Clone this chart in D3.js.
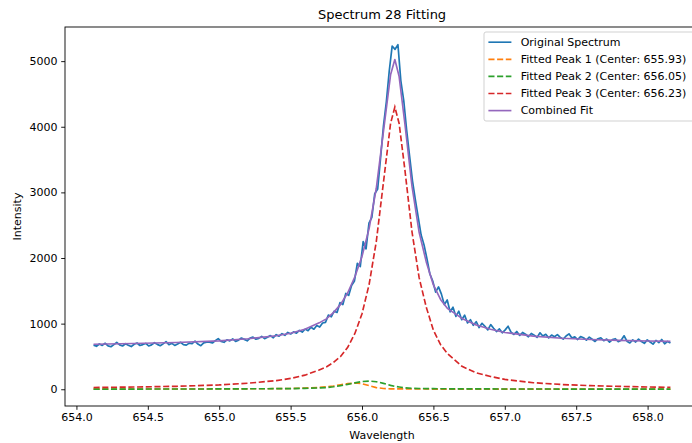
<!DOCTYPE html>
<html>
<head>
<meta charset="utf-8">
<script src="https://cdn.jsdelivr.net/npm/d3@7"></script>
<style>
  body { margin: 0; background: #fff; }
  svg { display: block; font-family: "DejaVu Sans", sans-serif; }
</style>
</head>
<body>
<div id="chart"></div>
<script>
// measured spectrum (evenly sampled between first and last wavelength)
const specStart = 654.12, specEnd = 658.16;
const specValues = [
    672, 655, 690, 668, 701, 662, 648, 680, 713, 676,
    659, 694, 671, 650, 686, 705, 667, 681, 698, 660,
    677, 709, 684, 663, 692, 725, 679, 700, 668, 690,
    716, 681, 672, 703, 694, 732, 688, 664, 707, 719,
    718, 705, 741, 772, 729, 716, 754, 737, 768, 730,
    748, 781, 760, 739, 779, 795, 762, 776, 806, 771,
    792, 818, 785, 832, 808, 848, 822, 866, 842, 874,
    856, 897, 872, 918, 893, 944, 915, 972, 948, 1010,
    1020, 1130, 1105, 1190, 1170, 1320, 1290, 1460, 1430, 1580,
    1650, 1920, 1870, 2250, 2140, 2530, 2620, 2980, 3050, 3520,
    4010, 4380, 4850, 5230, 5180, 5250, 4700, 4400, 3950, 3560,
    3180, 2890, 2620, 2350, 2200, 1990, 1760, 1650, 1480, 1560,
    1450, 1290, 1360, 1180, 1250, 1110, 1190, 1060, 1130, 1010,
    1060, 975, 1030, 940, 1005, 960, 905, 985, 930, 880,
    920, 860, 905, 960, 870, 835, 880, 820, 865, 838,
    800, 850, 825, 790, 860, 812, 838, 783, 826, 801,
    832, 790, 765, 812, 845, 780, 798, 758, 803, 785,
    748, 795, 762, 728, 770, 784, 740, 765, 718, 756,
    770, 725, 746, 815, 733, 705, 752, 720, 764, 727,
    700, 752, 720, 688, 744, 711, 758, 693, 729, 704
];

// fitted curves, read at these wavelengths
const fitWave = [654.12, 654.4, 654.7, 655.0, 655.2, 655.4, 655.5, 655.6, 655.7, 655.75,
    655.8, 655.85, 655.9, 655.95, 656.0, 656.05, 656.1, 656.15, 656.2, 656.23,
    656.26, 656.3, 656.35, 656.4, 656.45, 656.5, 656.55, 656.6, 656.7, 656.8,
    656.9, 657.0, 657.2, 657.4, 657.6, 657.8, 658.0, 658.16];
const peak1 = [2, 3, 4, 5, 7, 9, 12, 18, 28, 38,
    50, 68, 85, 95, 85, 55, 25, 12, 7, 6,
    5, 5, 4, 4, 4, 3, 3, 3, 3, 3,
    3, 2, 2, 2, 2, 2, 2, 2];
const peak2 = [2, 3, 4, 5, 7, 9, 10, 14, 20, 26,
    38, 55, 75, 98, 118, 125, 115, 90, 60, 45,
    35, 22, 15, 12, 10, 9, 8, 7, 6, 5,
    5, 4, 4, 3, 3, 3, 2, 2];
const peak3 = [27, 34, 45, 66, 92, 132, 165, 215, 295, 340,
    410, 500, 640, 850, 1150, 1600, 2250, 3150, 4050, 4300,
    4050, 3350, 2400, 1700, 1250, 900, 680, 540, 350, 250,
    195, 150, 100, 72, 55, 44, 35, 30];
const combined = [686, 697, 713, 738, 770, 816, 854, 915, 1012, 1073,
    1168, 1293, 1471, 1714, 2025, 2452, 3063, 3925, 4791, 5025,
    4765, 4052, 3095, 2392, 1941, 1589, 1369, 1228, 1080, 980,
    915, 865, 810, 778, 758, 745, 735, 730];

const legendLabels = ["Original Spectrum", "Fitted Peak 1 (Center: 655.93)",
    "Fitted Peak 2 (Center: 656.05)", "Fitted Peak 3 (Center: 656.23)", "Combined Fit"];
const xTicks = [654.0, 654.5, 655.0, 655.5, 656.0, 656.5, 657.0, 657.5, 658.0];
const yTicks = [0, 1000, 2000, 3000, 4000, 5000];

const W = 692, H = 443;
const margin = { left: 65, right: 699, top: 27, bottom: 406 };
const colors = ["#1f77b4", "#ff7f0e", "#2ca02c", "#d62728", "#9467bd"];
const dash = "6.1,2.6";

const svg = d3.select("#chart").append("svg")
    .attr("width", W).attr("height", H);

const x = d3.scaleLinear().domain([653.92, 658.36]).range([margin.left, margin.right]);
const y = d3.scaleLinear().domain([-255, 5520]).range([margin.bottom, margin.top]);

svg.append("clipPath").attr("id", "clip")
    .append("rect")
    .attr("x", margin.left).attr("y", margin.top)
    .attr("width", margin.right - margin.left)
    .attr("height", margin.bottom - margin.top);

const plot = svg.append("g").attr("clip-path", "url(#clip)");

const specPts = specValues.map((v, i) => [specStart + i * (specEnd - specStart) / (specValues.length - 1), v]);
const line = d3.line().x(d => x(d[0])).y(d => y(d[1]));

// original
plot.append("path").datum(specPts)
    .attr("d", line).attr("fill", "none")
    .attr("stroke", colors[0]).attr("stroke-width", 1.7)
    .attr("stroke-linejoin", "round");

// fitted peaks
[peak1, peak2, peak3].forEach((vals, k) => {
    plot.append("path").datum(vals.map((v, i) => [fitWave[i], v]))
        .attr("d", line).attr("fill", "none")
        .attr("stroke", colors[k + 1]).attr("stroke-width", 1.65)
        .attr("stroke-dasharray", dash);
});

// combined
plot.append("path").datum(combined.map((v, i) => [fitWave[i], v]))
    .attr("d", line).attr("fill", "none")
    .attr("stroke", colors[4]).attr("stroke-width", 1.65)
    .attr("stroke-linejoin", "round");

// axes
const xAxis = svg.append("g")
    .attr("transform", "translate(0," + margin.bottom + ")")
    .call(d3.axisBottom(x).tickValues(xTicks).tickFormat(d3.format(".1f")).tickSize(3.8).tickPadding(3.8).tickSizeOuter(0));
const yAxis = svg.append("g")
    .attr("transform", "translate(" + margin.left + ",0)")
    .call(d3.axisLeft(y).tickValues(yTicks).tickFormat(d3.format("d")).tickSize(3.8).tickPadding(3.8).tickSizeOuter(0));
[xAxis, yAxis].forEach(a => {
    a.select(".domain").remove();
    a.selectAll("text").attr("font-size", "11px").attr("fill", "#000").attr("font-family", "DejaVu Sans");
    a.selectAll("line").attr("stroke", "#000").attr("stroke-width", 0.9);
});

// frame
svg.append("rect")
    .attr("x", margin.left).attr("y", margin.top)
    .attr("width", margin.right - margin.left)
    .attr("height", margin.bottom - margin.top)
    .attr("fill", "none").attr("stroke", "#000").attr("stroke-width", 0.9);

// labels
svg.append("text").text("Spectrum 28 Fitting")
    .attr("x", (margin.left + margin.right) / 2).attr("y", 19)
    .attr("text-anchor", "middle").attr("font-size", "13px");
svg.append("text").text("Wavelength")
    .attr("x", (margin.left + margin.right) / 2).attr("y", 439)
    .attr("text-anchor", "middle").attr("font-size", "11px");
svg.append("text").text("Intensity")
    .attr("transform", "translate(21," + (margin.top + margin.bottom) / 2 + ") rotate(-90)")
    .attr("text-anchor", "middle").attr("font-size", "11px");

// legend
const lg = svg.append("g").attr("transform", "translate(484,32)");
lg.append("rect")
    .attr("width", 212).attr("height", 89).attr("rx", 2)
    .attr("fill", "#fff").attr("fill-opacity", 0.8)
    .attr("stroke", "#cccccc").attr("stroke-width", 0.9);
legendLabels.forEach((lab, i) => {
    const cy = 10.2 + i * 17.1;
    lg.append("line")
        .attr("x1", 4.4).attr("x2", 27.4).attr("y1", cy).attr("y2", cy)
        .attr("stroke", colors[i]).attr("stroke-width", 1.65)
        .attr("stroke-dasharray", (i >= 1 && i <= 3) ? dash : null);
    lg.append("text").text(lab)
        .attr("x", 36.7).attr("y", cy).attr("dy", "0.35em")
        .attr("font-size", "11px");
});
</script>
</body>
</html>
